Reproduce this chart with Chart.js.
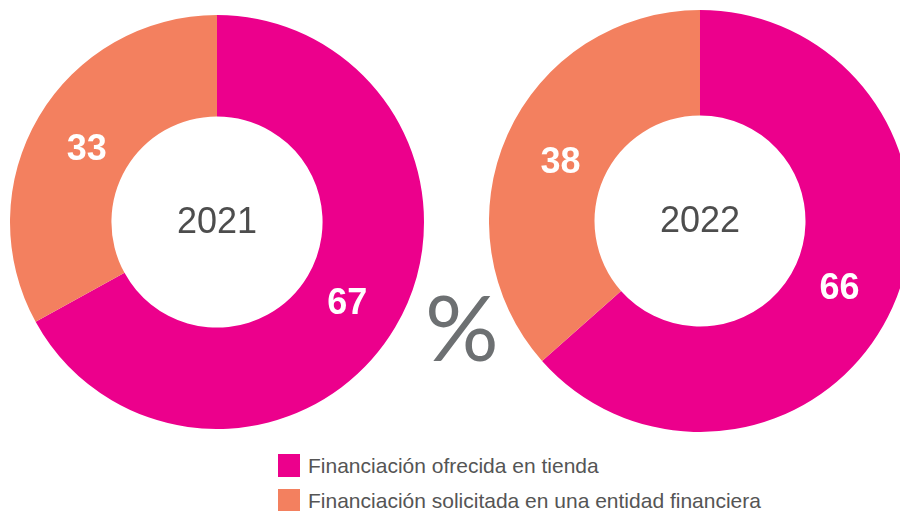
<!DOCTYPE html>
<html>
<head>
<meta charset="utf-8">
<script src="https://cdn.jsdelivr.net/npm/chart.js@4.4.0/dist/chart.umd.min.js"></script>
<style>
  html, body { margin: 0; padding: 0; background: #fff; }
  body { width: 900px; height: 511px; position: relative; overflow: hidden; font-family: "Liberation Sans", Arial, sans-serif; }
  canvas { position: absolute; }
  #c2021 { left: 10px; top: 15px; }
  #c2022 { left: 489px; top: 10px; }
  #pct { position: absolute; left: 425px; top: 280px; font-family: Lato, sans-serif; font-weight: 400; font-size: 92px; color: #6d7072; line-height: 1; }
  #leyenda { position: absolute; left: 278px; top: 448px; }
  .item { display: flex; align-items: center; height: 35px; font-size: 21px; color: #555; }
  .caja { width: 22px; height: 23px; margin-right: 8px; }
</style>
</head>
<body>
<canvas id="c2021" width="414" height="414"></canvas>
<canvas id="c2022" width="422" height="422"></canvas>
<div id="pct">%</div>
<div id="leyenda"></div>
<script>
// Categorías y colores
const categorias = ['Financiación ofrecida en tienda', 'Financiación solicitada en una entidad financiera'];
const colores = ['#ec008c', '#f3805f'];

// Valores por año (%)
const valores2021 = [67, 33];
const valores2022 = [66, 38];

// Plugin que escribe los valores sobre cada porción y el año en el centro
const etiquetas = {
    id: 'etiquetas',
    afterDatasetsDraw(chart, args, opts) {
        const ctx = chart.ctx;
        const meta = chart.getDatasetMeta(0);
        const datos = chart.data.datasets[0].data;
        ctx.save();
        ctx.textAlign = 'center';
        ctx.textBaseline = 'middle';
        meta.data.forEach((arco, i) => {
            const p = arco.getProps(['x', 'y', 'startAngle', 'endAngle', 'innerRadius', 'outerRadius'], true);
            const ang = (p.startAngle + p.endAngle) / 2;
            const r = p.innerRadius + (p.outerRadius - p.innerRadius) * 0.45;
            ctx.fillStyle = '#fff';
            ctx.font = 'bold 36px "Liberation Sans", Arial, sans-serif';
            ctx.fillText(datos[i], p.x + Math.cos(ang) * r, p.y + Math.sin(ang) * r + 5);
        });
        const centro = meta.data[0];
        ctx.fillStyle = '#4d4d4d';
        ctx.font = '36px "Liberation Sans", Arial, sans-serif';
        ctx.fillText(opts.anio, centro.x, centro.y + 1);
        ctx.restore();
    }
};

function crearDona(id, valores, anio, corte) {
    new Chart(document.getElementById(id), {
        type: 'doughnut',
        data: {
            labels: categorias,
            datasets: [{
                data: valores,
                backgroundColor: colores,
                borderWidth: 0
            }]
        },
        options: {
            responsive: false,
            animation: false,
            devicePixelRatio: 1,
            cutout: corte,
            layout: { padding: 0 },
            plugins: {
                legend: { display: false },
                tooltip: { enabled: false },
                etiquetas: { anio: anio }
            }
        },
        plugins: [etiquetas]
    });
}

crearDona('c2021', valores2021, '2021', '51%');
crearDona('c2022', valores2022, '2022', '50%');

// Leyenda en HTML
const leyenda = document.getElementById('leyenda');
categorias.forEach((cat, i) => {
    const fila = document.createElement('div');
    fila.className = 'item';
    fila.innerHTML = `<span class="caja" style="background:${colores[i]}"></span>${cat}`;
    leyenda.appendChild(fila);
});
</script>
</body>
</html>
